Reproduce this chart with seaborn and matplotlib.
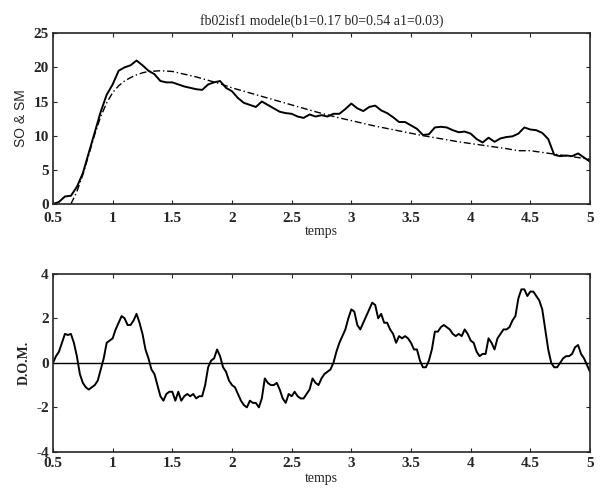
import numpy as np
import pandas as pd
import matplotlib
matplotlib.use("Agg")
import matplotlib.pyplot as plt
import seaborn as sns

# observed series (SO), sampled every 0.05
t_obs = np.round(np.arange(0.5, 5.0001, 0.05), 3)
so = [0.0, 0.3, 1.1, 1.2, 2.5, 4.5, 7.5, 10.5, 13.5, 16.0,
      17.5, 19.5, 20.0, 20.3, 21.0, 20.3, 19.5, 19.0, 18.0, 17.8,
      17.8, 17.5, 17.2, 17.0, 16.8, 16.7, 17.5, 17.8, 18.0, 17.0,
      16.5, 15.5, 14.8, 14.5, 14.2, 15.0, 14.5, 14.0, 13.5, 13.3,
      13.2, 12.8, 12.6, 13.1, 12.8, 13.0, 12.8, 13.2, 13.2, 13.9,
      14.7, 14.0, 13.6, 14.2, 14.4, 13.7, 13.3, 12.7, 12.0, 12.0,
      11.5, 11.0, 10.1, 10.2, 11.2, 11.3, 11.2, 10.8, 10.5, 10.6,
      10.3, 9.5, 9.0, 9.7, 9.1, 9.6, 9.8, 9.9, 10.3, 11.2,
      10.9, 10.8, 10.4, 9.5, 7.2, 7.0, 7.1, 7.0, 7.4, 6.8,
      6.2]

# model series (SM)
t_mod = [0.65, 0.7, 0.75, 0.8, 0.85, 0.9, 0.95, 1.0, 1.05, 1.1,
         1.15, 1.2, 1.25, 1.3, 1.4, 1.5, 1.6, 1.7, 1.8, 1.9,
         2.0, 2.1, 2.2, 2.3, 2.4, 2.5, 2.6, 2.7, 2.8, 2.9,
         3.0, 3.1, 3.2, 3.3, 3.4, 3.5, 3.6, 3.7, 3.8, 3.9,
         4.0, 4.1, 4.2, 4.3, 4.4, 4.5, 4.6, 4.7, 4.8, 4.9, 5.0]
sm = [0.0, 1.8, 4.3, 7.2, 10.2, 12.8, 14.8, 16.3, 17.3, 18.0,
      18.5, 18.9, 19.2, 19.4, 19.5, 19.4, 19.0, 18.6, 18.1, 17.6,
      17.0, 16.5, 16.0, 15.5, 15.0, 14.5, 14.0, 13.5, 13.05, 12.6,
      12.2, 11.8, 11.4, 11.05, 10.7, 10.35, 10.0, 9.7, 9.4, 9.1,
      8.85, 8.6, 8.35, 8.1, 7.8, 7.8, 7.55, 7.3, 7.05, 6.8, 6.55]

# difference observed - model (D.O.M.), sampled every 0.025
t_dom = np.round(np.arange(0.5, 5.0001, 0.025), 3)
dom = [0.0, 0.3, 0.5, 0.9, 1.3, 1.25, 1.3, 0.9, 0.3, -0.5,
       -0.9, -1.1, -1.2, -1.1, -1.0, -0.8, -0.3, 0.2, 0.9, 1.0,
       1.1, 1.5, 1.8, 2.1, 2.0, 1.7, 1.7, 1.9, 2.2, 1.8,
       1.3, 0.6, 0.2, -0.3, -0.5, -1.0, -1.5, -1.7, -1.4, -1.3,
       -1.3, -1.7, -1.3, -1.7, -1.5, -1.4, -1.5, -1.4, -1.6, -1.5,
       -1.5, -1.0, -0.2, 0.1, 0.2, 0.6, 0.3, -0.2, -0.4, -0.8,
       -1.0, -1.1, -1.4, -1.7, -1.9, -2.0, -1.7, -1.8, -1.8, -2.0,
       -1.6, -0.7, -0.9, -1.0, -1.0, -0.9, -1.2, -1.6, -1.8, -1.4,
       -1.5, -1.3, -1.5, -1.6, -1.6, -1.4, -1.2, -0.7, -0.9, -1.0,
       -0.7, -0.5, -0.4, -0.3, 0.0, 0.5, 0.9, 1.2, 1.5, 2.0,
       2.4, 2.3, 1.7, 1.5, 1.8, 2.1, 2.4, 2.7, 2.6, 2.0,
       2.2, 1.8, 1.8, 1.5, 1.3, 0.9, 1.2, 1.1, 1.2, 1.1,
       0.9, 0.6, 0.6, 0.1, -0.2, -0.2, 0.1, 0.6, 1.4, 1.4,
       1.6, 1.7, 1.6, 1.5, 1.3, 1.2, 1.3, 1.2, 1.5, 1.3,
       1.0, 0.9, 0.5, 0.3, 0.4, 0.4, 1.1, 0.9, 0.6, 1.1,
       1.3, 1.5, 1.5, 1.6, 1.9, 2.1, 2.9, 3.3, 3.3, 3.0,
       3.2, 3.2, 3.0, 2.8, 2.4, 1.5, 0.6, 0.0, -0.2, -0.2,
       0.0, 0.2, 0.3, 0.3, 0.4, 0.7, 0.8, 0.4, 0.2, -0.1,
       -0.4]

x_ticks = [0.5, 1, 1.5, 2, 2.5, 3, 3.5, 4, 4.5, 5]
x_labels = ['0.5', '1', '1.5', '2', '2.5', '3', '3.5', '4', '4.5', '5']

sns.set_style("ticks")
plt.rcParams['font.family'] = ['Liberation Serif', 'DejaVu Serif']
plt.rcParams['axes.unicode_minus'] = False

fig = plt.figure(figsize=(6.05, 4.88), dpi=100)
ax1 = fig.add_axes([0.0876, 0.582, 0.8876, 0.350])
ax2 = fig.add_axes([0.0876, 0.074, 0.8876, 0.365])

df_obs = pd.DataFrame({'temps': t_obs, 'val': so})
df_mod = pd.DataFrame({'temps': t_mod, 'val': sm})
df_dom = pd.DataFrame({'temps': t_dom, 'val': dom})

sns.lineplot(data=df_mod, x='temps', y='val', ax=ax1, color='black',
             linewidth=1.0, linestyle=(0, (5, 2, 1, 2)))
sns.lineplot(data=df_obs, x='temps', y='val', ax=ax1, color='black', linewidth=1.4)
ax1.set_xlim(0.5, 5)
ax1.set_ylim(0, 25)
ax1.set_xticks(x_ticks)
ax1.set_xticklabels(x_labels)
ax1.set_yticks([0, 5, 10, 15, 20, 25])
ax1.set_xlabel('temps', fontsize=10, labelpad=0)
ax1.set_ylabel('SO & SM', fontsize=10, family=['Liberation Sans'])
ax1.set_title('fb02isf1 modele(b1=0.17 b0=0.54 a1=0.03)', fontsize=10, pad=6)

ax2.axhline(0, color='black', linewidth=1.0)
sns.lineplot(data=df_dom, x='temps', y='val', ax=ax2, color='black', linewidth=1.4)
ax2.set_xlim(0.5, 5)
ax2.set_ylim(-4, 4)
ax2.set_xticks(x_ticks)
ax2.set_xticklabels(x_labels)
ax2.set_yticks([-4, -2, 0, 2, 4])
ax2.set_xlabel('temps', fontsize=10, labelpad=1)
ax2.set_ylabel('D.O.M.', fontsize=10, fontweight='bold')

for ax in (ax1, ax2):
    ax.tick_params(direction='in', top=True, right=True, length=3, labelsize=11)
    ax.tick_params(axis='y', pad=3)
    for lab in ax.get_xticklabels() + ax.get_yticklabels():
        lab.set_fontweight('bold')
    for sp in ax.spines.values():
        sp.set_visible(True)
        sp.set_linewidth(1.2)
ax1.tick_params(axis='x', pad=6)
ax2.tick_params(axis='x', pad=4)

fig.savefig('out.png', dpi=100)
